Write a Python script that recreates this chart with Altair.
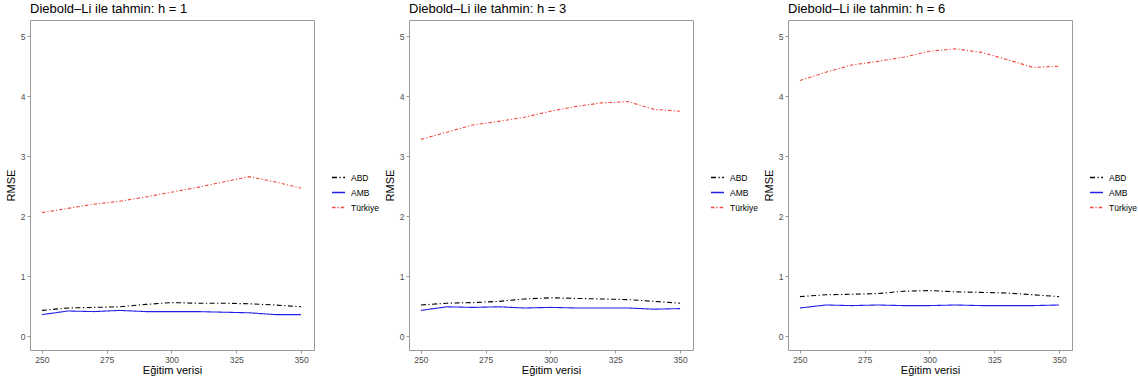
import altair as alt
import pandas as pd

x_vals = [250, 260, 270, 280, 290, 300, 310, 320, 330, 340, 350]
series = ["ABD", "AMB", "Türkiye"]

abd_h1 = [0.43, 0.47, 0.48, 0.49, 0.53, 0.56, 0.55, 0.55, 0.54, 0.52, 0.49]
amb_h1 = [0.36, 0.42, 0.41, 0.43, 0.41, 0.41, 0.41, 0.40, 0.39, 0.36, 0.36]
tur_h1 = [2.06, 2.13, 2.20, 2.25, 2.32, 2.40, 2.48, 2.57, 2.66, 2.57, 2.47]

abd_h3 = [0.52, 0.55, 0.56, 0.58, 0.62, 0.64, 0.63, 0.62, 0.61, 0.58, 0.55]
amb_h3 = [0.43, 0.49, 0.48, 0.49, 0.47, 0.48, 0.47, 0.47, 0.47, 0.45, 0.46]
tur_h3 = [3.28, 3.40, 3.52, 3.58, 3.65, 3.75, 3.83, 3.89, 3.91, 3.78, 3.75]

abd_h6 = [0.66, 0.69, 0.70, 0.71, 0.75, 0.76, 0.74, 0.73, 0.72, 0.69, 0.66]
amb_h6 = [0.47, 0.52, 0.51, 0.52, 0.51, 0.51, 0.52, 0.51, 0.51, 0.51, 0.52]
tur_h6 = [4.26, 4.40, 4.52, 4.58, 4.65, 4.75, 4.79, 4.73, 4.61, 4.48, 4.50]

titles = ["Diebold\u2013Li ile tahmin: h = 1", "Diebold\u2013Li ile tahmin: h = 3", "Diebold\u2013Li ile tahmin: h = 6"]
panels = [(abd_h1, amb_h1, tur_h1), (abd_h3, amb_h3, tur_h3), (abd_h6, amb_h6, tur_h6)]

colors = ["#000000", "#2020e8", "#ef4a3c"]
dashes = [[5, 2.5, 1.2, 2.5], [1, 0], [3.5, 2, 1.2, 2]]


def make_panel(title, vals):
    rows = []
    for name, arr in zip(series, vals):
        for xv, yv in zip(x_vals, arr):
            rows.append({"x": xv, "y": yv, "seri": name})
    df = pd.DataFrame(rows)
    leg = dict(orient="none", legendX=301, legendY=150, symbolType="stroke", symbolSize=169,
               symbolStrokeWidth=1.4, labelFontSize=8.5, labelColor="#000", rowPadding=3,
               labelOffset=5, padding=0)
    return alt.Chart(df, title=alt.TitleParams(title, anchor="start", frame="group", fontSize=13,
                                               fontWeight="normal", color="#000", font="Liberation Sans",
                                               offset=4)).mark_line(strokeWidth=1.1).encode(
        x=alt.X("x:Q", title="Eğitim verisi",
                scale=alt.Scale(domain=[245.4, 355], nice=False, zero=False),
                axis=alt.Axis(values=[250, 275, 300, 325, 350], grid=False)),
        y=alt.Y("y:Q", title="RMSE",
                scale=alt.Scale(domain=[-0.23, 5.27], nice=False),
                axis=alt.Axis(values=[0, 1, 2, 3, 4, 5], grid=False)),
        color=alt.Color("seri:N", title=None,
                        scale=alt.Scale(domain=series, range=colors),
                        legend=alt.Legend(**leg)),
        strokeDash=alt.StrokeDash("seri:N", title=None,
                                  scale=alt.Scale(domain=series, range=dashes),
                                  legend=alt.Legend(**leg)),
    ).properties(width=284, height=330)


charts = [make_panel(t, v) for t, v in zip(titles, panels)]

chart = alt.hconcat(*charts, spacing=3).resolve_legend(
    color="independent", strokeDash="independent"
).resolve_scale(color="independent", strokeDash="independent").configure_view(
    stroke="#9a9a9a", strokeWidth=1
).configure_axis(
    domain=False, tickColor="#9a9a9a", tickSize=3, labelColor="#4d4d4d", labelFontSize=8.5,
    labelFont="Liberation Sans", titleFont="Liberation Sans", titleFontSize=11,
    titleFontWeight="normal", titleColor="#000", labelPadding=2
).configure_axisY(titlePadding=4).configure_axisX(titlePadding=1).configure_legend(
    labelFont="Liberation Sans"
).properties(padding={"left": 4, "top": 2, "right": 0, "bottom": 0})

chart.save("out.html", embed_options={"renderer": "svg", "actions": False})
